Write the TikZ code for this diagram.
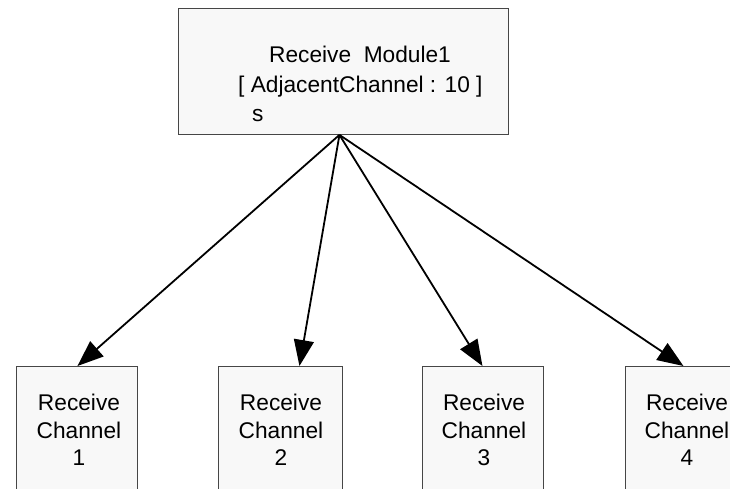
\documentclass[tikz,border=0pt]{standalone}
\usepackage{fontspec}
\setmainfont{Liberation Sans}
\usetikzlibrary{arrows.meta,calc}
\definecolor{boxfill}{RGB}{248,248,248}
\definecolor{boxline}{RGB}{70,70,70}
\tikzset{
  box/.style={draw=boxline, line width=0.9pt, fill=boxfill, inner sep=0pt, anchor=north west},
  txt/.style={inner sep=0pt, font=\fontsize{22.7}{28}\selectfont},
  conn/.style={line width=1.8pt, -{Triangle[length=26pt,width=20pt]}}
}
\begin{document}
\begin{tikzpicture}[x=1pt,y=-1pt]
\useasboundingbox (0,0) rectangle (730,489);
\clip (0,0) rectangle (730,489);
\fill[white] (0,0) rectangle (730,489);
% top box
\node[box, minimum width=330pt, minimum height=126pt] (top) at (178,8) {};
\node[txt, anchor=base west] (t1) at (269,63) {Receive\ \ Module1};
\node[txt, anchor=base west] (t2) at (238,93) {[ AdjacentChannel : 10 ]};
\node[txt, anchor=base west] (t3) at (252,122) {s};
% bottom boxes
\node[box, minimum width=121pt, minimum height=140pt] (b1) at (16,366) {};
\node[box, minimum width=124pt, minimum height=140pt] (b2) at (218,366) {};
\node[box, minimum width=121pt, minimum height=140pt] (b3) at (422,366) {};
\node[box, minimum width=121pt, minimum height=140pt] (b4) at (625,366) {};
% labels
\node[txt, anchor=base] (b1a) at (79,410) {Receive};
\node[txt, anchor=base] (b1b) at (79,438) {Channel};
\node[txt, anchor=base] (b1c) at (79,465) {1};
\node[txt, anchor=base] (b2a) at (281,410) {Receive};
\node[txt, anchor=base] (b2b) at (281,438) {Channel};
\node[txt, anchor=base] (b2c) at (281,465) {2};
\node[txt, anchor=base] (b3a) at (484,410) {Receive};
\node[txt, anchor=base] (b3b) at (484,438) {Channel};
\node[txt, anchor=base] (b3c) at (484,465) {3};
\node[txt, anchor=base] (b4a) at (687,410) {Receive};
\node[txt, anchor=base] (b4b) at (687,438) {Channel};
\node[txt, anchor=base] (b4c) at (687,465) {4};
% connectors
\coordinate (apex) at ($(top.south)+(-4,0)$);
\draw[conn] (apex) -- ($(b1.north)+(0.5,0)$);
\draw[conn] (apex) -- ($(b2.north)+(19,0)$);
\draw[conn] (apex) -- ($(b3.north)+(-0.5,0)$);
\draw[conn] (apex) -- ($(b4.north)+(-2.5,0)$);
\end{tikzpicture}
\end{document}
